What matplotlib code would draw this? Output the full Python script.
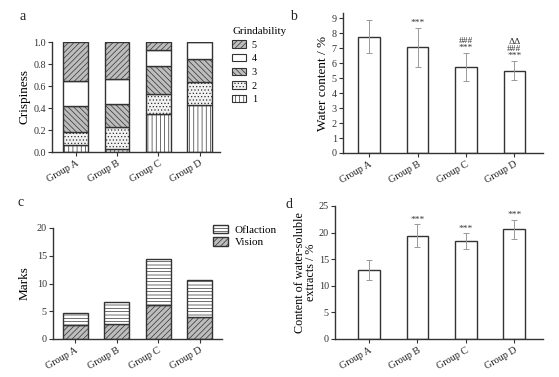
import matplotlib
matplotlib.use("Agg")
import matplotlib.pyplot as plt
import numpy as np
from matplotlib.patches import Patch

plt.rcParams['font.family'] = ['Liberation Serif', 'DejaVu Serif']
plt.rcParams['hatch.linewidth'] = 0.5
plt.rcParams['hatch.color'] = '#555555'

groups = ["Group A", "Group B", "Group C", "Group D"]

# Panel a: grindability fractions (levels 1..5)
grind_levels = ["1", "2", "3", "4", "5"]
g1 = [0.06, 0.03, 0.35, 0.43]
g2 = [0.12, 0.20, 0.18, 0.21]
g3 = [0.24, 0.21, 0.25, 0.21]
g4 = [0.23, 0.22, 0.15, 0.15]
g5 = [0.35, 0.34, 0.07, 0.00]

# Panel b: water content
water = [7.75, 7.05, 5.75, 5.5]
water_err = [1.1, 1.3, 0.95, 0.65]
water_sig = ["", "***", "###\n***", "ΔΔ\n###\n***"]

# Panel c: marks
vision = [2.5, 2.7, 6.2, 4.0]
olfaction = [2.2, 4.0, 8.3, 6.7]

# Panel d: water-soluble extracts
extract = [12.9, 19.4, 18.4, 20.6]
extract_err = [1.9, 2.2, 1.45, 1.8]
extract_sig = ["", "***", "***", "***"]

W, H = 559, 377
fig = plt.figure(figsize=(W/100, H/100), dpi=100)

def ax_px(l, r, t, b):
    return fig.add_axes([l/W, 1-b/H, (r-l)/W, (b-t)/H])

edge = '#333333'
tick_fs = 7.3
lab_fs = 9.5

def style(ax):
    for s in ['top', 'right']:
        ax.spines[s].set_visible(False)
    for s in ['left', 'bottom']:
        ax.spines[s].set_linewidth(1.0)
        ax.spines[s].set_color('#333333')
    ax.tick_params(labelsize=tick_fs, length=3, width=0.8, pad=1.5, colors='#333333')
    ax.tick_params(axis='x', labelcolor='#222222')

x = np.arange(4)

# ---------- a ----------
axa = ax_px(52, 220, 42, 152)
hatches = ['||||', '.....', '\\\\\\\\\\\\', '', '//////']
faces = ['white', '#f2f2f2', '#bdbdbd', 'white', '#bdbdbd']
bottom = np.zeros(4)
handles = []
for vals, h, fc, lab in zip([g1, g2, g3, g4, g5], hatches, faces, grind_levels):
    axa.bar(x, vals, 0.6, bottom=bottom, color=fc, hatch=h, edgecolor=edge, linewidth=1.0)
    bottom += np.array(vals)
    handles.append(Patch(facecolor=fc, hatch=h, edgecolor=edge, linewidth=0.8, label=lab))
axa.set_xlim(-0.57, 3.49)
axa.set_ylim(0, 1.0)
axa.set_yticks(np.arange(0, 1.01, 0.2))
axa.set_yticklabels([f"{v:.1f}" for v in np.arange(0, 1.01, 0.2)])
axa.set_xticks(x)
axa.set_xticklabels(groups, rotation=30, ha='right', rotation_mode='anchor')
axa.set_ylabel("Crispiness", fontsize=lab_fs, labelpad=2)
style(axa)
leg = axa.legend(handles=handles[::-1], title="Grindability", loc='upper left',
                 bbox_to_anchor=(1.02, 1.22), frameon=False, fontsize=7.3,
                 title_fontsize=7.8, handlelength=1.3, handleheight=0.7,
                 labelspacing=0.45, handletextpad=0.6)
leg._legend_box.align = 'left'

# ---------- b ----------
axb = ax_px(343, 543, 13, 153)
axb.bar(x, water, 0.45, color='white', edgecolor=edge, linewidth=1.0)
axb.errorbar(x, water, yerr=water_err, fmt='none', ecolor='#999999', elinewidth=0.7,
             capsize=2, capthick=0.7)
for xi, v, e, s in zip(x, water, water_err, water_sig):
    if s:
        axb.text(xi, v + e + 0.05, s, ha='center', va='bottom', fontsize=6.8,
                 linespacing=0.85, color='#333333')
axb.set_xlim(-0.54, 3.59)
axb.set_ylim(0, 9.35)
axb.set_yticks(range(10))
axb.set_xticks(x)
axb.set_xticklabels(groups, rotation=30, ha='right', rotation_mode='anchor')
axb.set_ylabel("Water content / %", fontsize=lab_fs, labelpad=2)
style(axb)

# ---------- c ----------
axc = ax_px(53, 222, 228, 339)
axc.bar(x, vision, 0.6, color='#bdbdbd', hatch='//////', edgecolor=edge, linewidth=1.0, label='Vision')
axc.bar(x, olfaction, 0.6, bottom=vision, color='white', hatch='-----', edgecolor=edge,
        linewidth=1.0, label='Oflaction')
axc.set_xlim(-0.54, 3.54)
axc.set_ylim(0, 20)
axc.set_yticks([0, 5, 10, 15, 20])
axc.set_xticks(x)
axc.set_xticklabels(groups, rotation=30, ha='right', rotation_mode='anchor')
axc.set_ylabel("Marks", fontsize=lab_fs, labelpad=4)
style(axc)
hc, lc = axc.get_legend_handles_labels()
axc.legend(hc[::-1], lc[::-1], loc='upper left', bbox_to_anchor=(0.89, 1.12), frameon=False,
           fontsize=8, handlelength=1.3, handleheight=0.8, labelspacing=0.2,
           handletextpad=0.6)

# ---------- d ----------
axd = ax_px(335, 543, 206, 339)
axd.bar(x, extract, 0.45, color='white', edgecolor=edge, linewidth=1.0)
axd.errorbar(x, extract, yerr=extract_err, fmt='none', ecolor='#999999', elinewidth=0.7,
             capsize=2, capthick=0.7)
for xi, v, e, s in zip(x, extract, extract_err, extract_sig):
    if s:
        axd.text(xi, v + e + 0.1, s, ha='center', va='bottom', fontsize=6.8, color='#333333')
axd.set_xlim(-0.70, 3.59)
axd.set_ylim(0, 25)
axd.set_yticks([0, 5, 10, 15, 20, 25])
axd.set_xticks(x)
axd.set_xticklabels(groups, rotation=30, ha='right', rotation_mode='anchor')
axd.set_ylabel("Content of water-soluble\nextracts / %", fontsize=8.7, labelpad=1,
               linespacing=0.95)
style(axd)

# panel letters
for lab, px, py in [('a', 20, 16), ('b', 290, 16), ('c', 17, 203), ('d', 285, 205)]:
    fig.text(px/W, 1-py/H, lab, fontsize=10, ha='left', va='center', color='#222222')

fig.savefig("out.png", dpi=100)
